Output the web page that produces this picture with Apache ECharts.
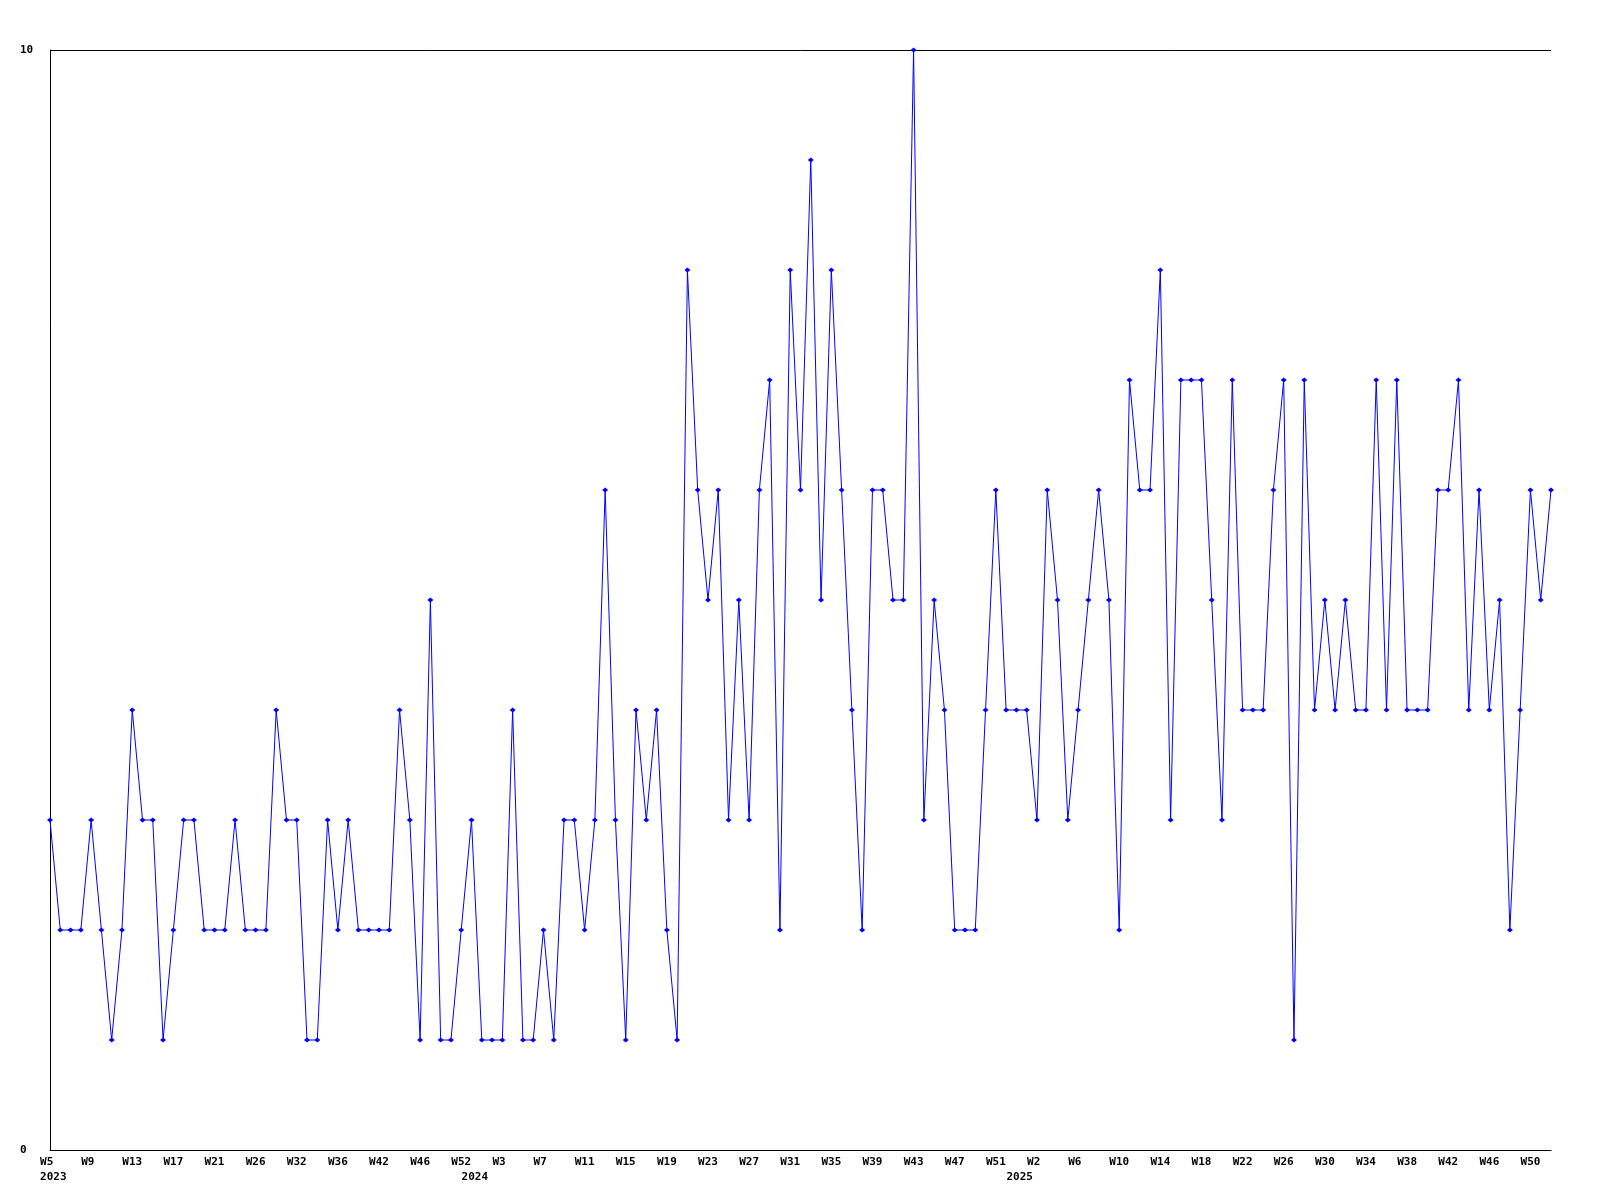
<!DOCTYPE html>
<html>
<head>
<meta charset="utf-8">
<script src="https://cdn.jsdelivr.net/npm/echarts@6/dist/echarts.min.js"></script>
<style>
  html, body { margin: 0; padding: 0; background: #fff; }
</style>
</head>
<body>
<div id="main" style="width: 1600px;height:1200px;"></div>
<script>
// week numbers per year (points only where data exists)
var weeks2023 = [5, 6, 7, 8, 9, 10, 11, 12, 13, 14, 15, 16, 17, 18, 19, 20, 21, 22, 23, 25,
  26, 27, 29, 30, 32, 33, 34, 35, 36, 37, 39, 40, 42, 43, 44, 45, 46, 47, 49, 50, 52]
var weeks2024 = [0, 1, 2, 3, 4, 5, 6, 7, 8, 9, 10, 11, 12, 13, 14, 15, 16, 17, 18, 19,
  20, 21, 22, 23, 24, 25, 26, 27, 28, 29, 30, 31, 32, 33, 34, 35, 36, 37, 38, 39,
  40, 41, 42, 43, 44, 45, 46, 47, 48, 49, 50, 51, 52]
var weeks2025 = [0, 1, 2, 3, 4, 5, 6, 7, 8, 9, 10, 11, 12, 13, 14, 15, 16, 17, 18, 19,
  20, 21, 22, 23, 24, 25, 26, 27, 28, 29, 30, 31, 32, 33, 34, 35, 36, 37, 38, 39,
  40, 41, 42, 43, 44, 45, 46, 47, 48, 49, 50, 51, 52]
var years = ['2023', '2024', '2025']

var values = [
  3, 2, 2, 2, 3, 2, 1, 2, 4, 3,
  3, 1, 2, 3, 3, 2, 2, 2, 3, 2,
  2, 2, 4, 3, 3, 1, 1, 3, 2, 3,
  2, 2, 2, 2, 4, 3, 1, 5, 1, 1,
  2, 3, 1, 1, 1, 4, 1, 1, 2, 1,
  3, 3, 2, 3, 6, 3, 1, 4, 3, 4,
  2, 1, 8, 6, 5, 6, 3, 5, 3, 6,
  7, 2, 8, 6, 9, 5, 8, 6, 4, 2,
  6, 6, 5, 5, 10, 3, 5, 4, 2, 2,
  2, 4, 6, 4, 4, 4, 3, 6, 5, 3,
  4, 5, 6, 5, 2, 7, 6, 6, 8, 3,
  7, 7, 7, 5, 3, 7, 4, 4, 4, 6,
  7, 1, 7, 4, 5, 4, 5, 4, 4, 7,
  4, 7, 4, 4, 4, 6, 6, 7, 4, 6,
  4, 5, 2, 4, 6, 5, 6
]

var categories = []
var yearStart = {}
;[weeks2023, weeks2024, weeks2025].forEach(function (list, i) {
  yearStart[categories.length] = years[i]
  list.forEach(function (w) {
    categories.push('W' + w)
  })
})

var font = {
  fontFamily: 'DejaVu Sans Mono',
  fontWeight: 'bold',
  fontSize: 11,
  color: '#000'
}

var myChart = echarts.init(document.getElementById('main'))
var option = {
  animation: false,
  backgroundColor: '#fff',
  grid: {
    left: 50,
    right: 49,
    top: 50,
    bottom: 50
  },
  xAxis: [
    {
      type: 'category',
      boundaryGap: false,
      data: categories,
      axisLine: { lineStyle: { color: '#000', width: 1 } },
      axisTick: { show: false },
      axisLabel: Object.assign({
        // every 4th point gets a label
        interval: function (index) {
          return index % 4 === 0
        },
        margin: 7,
        // pad to 3 chars like the original labels
        formatter: function (v) {
          return (v + '   ').slice(0, 3)
        }
      }, font),
      splitLine: { show: false }
    },
    {
      type: 'category',
      boundaryGap: false,
      data: categories,
      position: 'bottom',
      offset: 15,
      axisLine: { show: false },
      axisTick: { show: false },
      axisLabel: Object.assign({
        margin: 7,
        interval: function (index) {
          return yearStart[index] !== undefined
        },
        formatter: function (v, index) {
          return ' ' + yearStart[index]
        }
      }, font),
      splitLine: { show: false }
    }
  ],
  yAxis: {
    type: 'value',
    min: 0,
    max: 10,
    interval: 10,
    axisLine: { show: true, lineStyle: { color: '#000', width: 1 } },
    axisTick: { show: false },
    axisLabel: Object.assign({ align: 'left', margin: 30 }, font),
    splitLine: { show: true, lineStyle: { color: '#000', width: 1 } }
  },
  series: [
    {
      type: 'line',
      data: values,
      showAllSymbol: true,
      symbol: 'diamond',
      symbolSize: [6, 5],
      lineStyle: { color: '#0000ff', width: 1 },
      itemStyle: { color: '#0000ff' }
    }
  ]
}
myChart.setOption(option)
</script>
</body>
</html>
